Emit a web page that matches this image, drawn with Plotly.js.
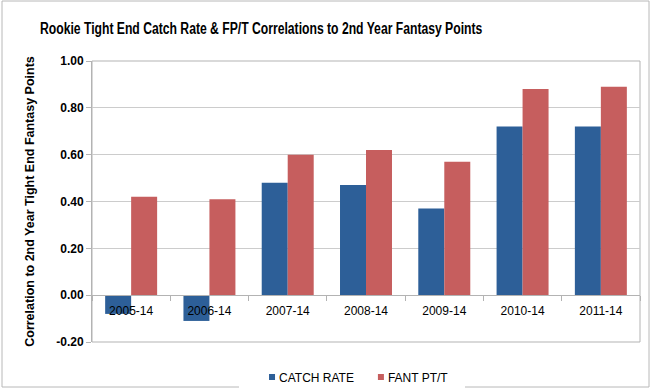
<!DOCTYPE html>
<html>
<head>
<meta charset="utf-8">
<script src="https://cdn.plot.ly/plotly-3.0.1.min.js"></script>
<style>
html,body{margin:0;padding:0;background:#fff;}
#chart{width:651px;height:389px;}
</style>
</head>
<body>
<div id="chart"></div>
<script>
const categories = ["2005-14","2006-14","2007-14","2008-14","2009-14","2010-14","2011-14"];
const catchRate = [-0.08,-0.11,0.48,0.47,0.37,0.72,0.72];
const fantPtT = [0.42,0.41,0.60,0.62,0.57,0.88,0.89];
const yTicks = [-0.2,0,0.2,0.4,0.6,0.8,1.0];
const yTickLabels = ["-0.20","0.00","0.20","0.40","0.60","0.80","1.00"];

const traces = [
  {type:'bar', name:'CATCH RATE', x:categories, y:catchRate,
   marker:{color:'#2d5f98'}, hoverinfo:'none'},
  {type:'bar', name:'FANT PT/T', x:categories, y:fantPtT,
   marker:{color:'#c65e5e'}, hoverinfo:'none'}
];

const layout = {
  width:651, height:389,
  margin:{l:92, r:11, t:61, b:47, pad:0, autoexpand:false},
  paper_bgcolor:'#ffffff', plot_bgcolor:'#ffffff',
  font:{family:'Liberation Sans, Arial, sans-serif', color:'#000', size:12},
  barmode:'group', bargap:0.336, bargroupgap:0,
  showlegend:true,
  title:{text:'<b>Rookie Tight End Catch Rate & FP/T Correlations to 2nd Year Fantasy Points</b>',
    font:{family:'Liberation Sans, Arial, sans-serif', size:17, color:'#000'},
    xref:'container', yref:'container', x:40/651, xanchor:'left', y:1-28/389, yanchor:'middle'},
  xaxis:{
    type:'category', anchor:'free', position:0.2/1.2,
    showline:true, linecolor:'#b3b3b3', linewidth:1,
    ticks:'outside', ticklen:5, tickcolor:'#b3b3b3', tickson:'boundaries',
    ticklabelstandoff:4,
    showgrid:false, zeroline:false,
    tickfont:{size:12, color:'#000'}, fixedrange:true
  },
  yaxis:{
    range:[-0.2,1.0], tickvals:yTicks, ticktext:yTickLabels,
    showline:true, linecolor:'#b3b3b3', linewidth:1,
    ticks:'outside', ticklen:5, tickcolor:'#b3b3b3',
    showgrid:true, gridcolor:'#cccccc', gridwidth:1, zeroline:false,
    tickfont:{size:12, color:'#000', weight:'bold'},
    title:{text:'<b>Correlation to 2nd Year Tight End Fantasy Points</b>', font:{size:12.5, color:'#000'}, standoff:18},
    fixedrange:true
  },
  legend:{orientation:'h', x:0.4745, xanchor:'center', xref:'paper', yref:'container', y:1-377/389, yanchor:'middle',
    font:{size:12, color:'#000'}, itemwidth:30, traceorder:'normal'},
  shapes:[
    {type:'rect', xref:'paper', yref:'paper', x0:0, x1:1, y0:0, y1:1, line:{color:'#b3b3b3', width:1}, layer:'below'},
    {type:'rect', xref:'paper', yref:'paper', x0:-90/548, x1:(548+9)/548, y0:-45/281, y1:(281+60)/281, line:{color:'#b8b8b8', width:1}, layer:'below'}
  ]
};

Plotly.newPlot('chart', traces, layout, {displayModeBar:false, staticPlot:true}).then(function(){
  const t = document.querySelector('.gtitle');
  if (t) {
    const bb = t.getBBox();
    const target = 443;
    if (bb.width > 0) {
      const sx = target / bb.width;
      const x0 = bb.x;
      const prev = t.getAttribute('transform') || '';
      t.setAttribute('transform', prev + ' translate(' + x0 + ',0) scale(' + sx + ',1) translate(' + (-x0) + ',0)');
    }
  }
  document.querySelectorAll('.legend .legendpoints path').forEach(function(p){
    p.setAttribute('d','M16,3H10V-3H16Z');
  });
  const items = document.querySelectorAll('.legend .traces');
  if (items.length > 1) {
    const it = items[1];
    const tr = it.getAttribute('transform') || '';
    const m = tr.match(/translate\(\s*([-\d.]+)[ ,]+([-\d.]+)\s*\)/);
    if (m) it.setAttribute('transform', 'translate(' + (parseFloat(m[1]) - 11) + ',' + m[2] + ')');
  }
});
</script>
</body>
</html>
